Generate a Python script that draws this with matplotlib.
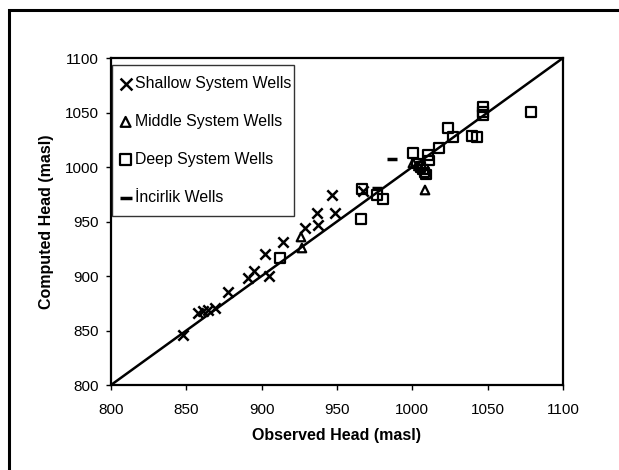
import matplotlib.pyplot as plt
from matplotlib.patches import Rectangle

plt.rcParams['font.family'] = ['Liberation Sans', 'DejaVu Sans']

# observed vs computed heads (masl)
shallow_obs = [847.8, 857.5, 861.2, 864.6, 869.0, 877.6, 890.9, 894.9, 904.8, 902.2,
               914.1, 928.7, 936.7, 937.4, 948.6, 946.6, 967.2]
shallow_calc = [845.9, 865.8, 868.2, 868.8, 870.4, 885.3, 898.2, 904.6, 900.0, 920.2,
                931.2, 944.0, 957.8, 946.8, 957.8, 974.3, 978.0]

middle_obs = [926.1, 926.7, 1008.4, 1000.4, 1004.0]
middle_calc = [935.8, 925.7, 978.9, 1003.7, 1001.0]

deep_obs = [912.1, 965.9, 966.6, 976.5, 980.5, 1000.4, 1010.4, 1017.6, 1023.6, 1027.0,
            1039.5, 1042.9, 1046.8, 1046.8, 1046.8, 1078.7, 1003.0, 1005.5, 1007.0,
            1008.0, 1009.0, 1011.0]
deep_calc = [916.5, 952.3, 979.8, 974.3, 970.6, 1012.8, 1011.0, 1017.4, 1035.8, 1027.5,
             1028.4, 1027.5, 1055.0, 1050.5, 1047.7, 1050.5, 1003.0, 1000.0, 998.0,
             995.0, 993.0, 1006.0]

incirlik_obs = [986.5, 976.5]
incirlik_calc = [1007.3, 980.7]

line_range = [800, 1100]
ticks = [800, 850, 900, 950, 1000, 1050, 1100]

fig = plt.figure(figsize=(6.19, 4.70), dpi=100)
ax = fig.add_axes([111 / 619, 1 - 385 / 470, 452 / 619, 327 / 470])

# outer chart border (left and top visible only)
fig.patches.append(Rectangle((9 / 619, -0.1), 1.2, 1 - 10 / 470 + 0.1,
                             transform=fig.transFigure, fill=False,
                             edgecolor='black', linewidth=2.2))

ax.plot(line_range, line_range, color='black', linewidth=1.8, zorder=2)

ax.scatter(shallow_obs, shallow_calc, marker='x', s=55, color='black',
           linewidths=1.8, label='Shallow System Wells', zorder=3)
ax.scatter(middle_obs, middle_calc, marker='^', s=38, facecolors='none',
           edgecolors='black', linewidths=1.6, label='Middle System Wells', zorder=3)
ax.scatter(deep_obs, deep_calc, marker='s', s=45, facecolors='none',
           edgecolors='black', linewidths=1.6, label='Deep System Wells', zorder=3)
ax.scatter(incirlik_obs, incirlik_calc, marker='_', s=60, color='black',
           linewidths=2.5, label='İncirlik Wells', zorder=3)

ax.set_xlim(800, 1100)
ax.set_ylim(800, 1100)
ax.set_xticks(ticks)
ax.set_yticks(ticks)
ax.tick_params(direction='out', length=3.6, width=1, labelsize=11)
ax.tick_params(axis='x', pad=9)
ax.tick_params(axis='y', pad=5)
for sp in ax.spines.values():
    sp.set_linewidth(1.6)

ax.set_xlabel('Observed Head (masl)', fontsize=11.5, fontweight='bold', labelpad=8)
ax.set_ylabel('Computed Head (masl)', fontsize=11.5, fontweight='bold', labelpad=8)

leg = ax.legend(loc='upper left', bbox_to_anchor=(0.0022, 0.9786, 0.4027, 0.0),
                mode='expand', fontsize=11.4, frameon=True, fancybox=False,
                edgecolor='black', handlelength=0.32, handletextpad=0.45,
                labelspacing=1.45, borderpad=0.7, borderaxespad=0,
                scatterpoints=1, markerscale=1.15)
leg.get_frame().set_linewidth(1.0)

fig.savefig('out.png', dpi=100)
